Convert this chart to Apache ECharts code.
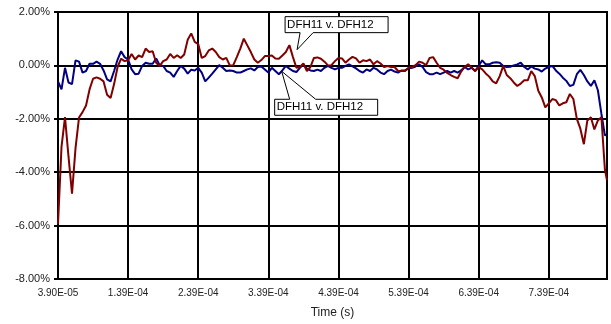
<!DOCTYPE html>
<html>
<head>
<meta charset="utf-8">
<script src="https://cdn.jsdelivr.net/npm/echarts@6/dist/echarts.min.js"></script>
<style>
html,body{margin:0;padding:0;background:#fff;}
#c{width:611px;height:324px;}
</style>
</head>
<body>
<div id="c"></div>
<script>
// Time in microseconds
var timeUs = [
 39,44,49,54,59,64,69,74,79,84,
 89,94,99,104,109,114,119,124,129,134,
 139,144,149,154,159,164,169,174,179,184,
 189,194,199,204,209,214,219,224,229,234,
 239,244,249,254,259,264,269,274,279,284,
 289,294,299,304,309,314,319,324,329,334,
 339,344,349,354,359,364,369,374,379,384,
 389,394,399,404,409,414,419,424,429,434,
 439,444,449,454,459,464,469,474,479,484,
 489,494,499,504,509,514,519,524,529,534,
 539,544,549,554,559,564,569,574,579,584,
 589,594,599,604,609,614,619,624,629,634,
 639,644,649,654,659,664,669,674,679,684,
 689,694,699,704,709,714,719,724,729,734,
 739,744,749,754,759,764,769,774,779,784,
 789,794,799,804,809,814,819,822
];
// Deviation in percent
var redSeries = [
 -5.95,-3.05,-1.94,-3.42,-4.8,-3.1,-1.95,-1.75,-1.5,-0.9,
 -0.5,-0.45,-0.5,-0.6,-1.1,-1.22,-0.7,-0.06,0.25,0.16,
 0.19,0.43,0.22,0.37,0.31,0.63,0.5,0.53,0.1,-0.02,
 0.16,0.22,0.43,0.28,0.38,0.28,0.41,0.96,1.2,0.88,
 0.8,0.28,0.35,0.56,0.63,0.5,0.31,0.22,0.28,0.0,
 0.01,0.31,0.63,1.0,0.75,0.5,0.22,0.1,0.2,0.35,
 0.35,0.37,0.26,0.25,0.37,0.5,0.76,0.32,-0.09,-0.06,
 0.07,-0.21,-0.06,0.28,0.3,0.25,0.14,0.0,0.01,0.16,
 0.28,0.26,0.1,0.22,0.32,0.26,0.1,0.19,0.16,0.22,
 0.04,0.16,0.07,-0.06,-0.02,-0.06,-0.06,-0.21,-0.21,-0.21,
 -0.09,-0.06,0.01,0.14,0.1,0.01,0.28,0.31,0.1,-0.09,
 -0.16,-0.28,-0.36,-0.43,-0.48,-0.23,-0.05,0.04,-0.09,-0.21,
 -0.06,-0.15,-0.3,-0.42,-0.6,-0.67,-0.4,-0.02,-0.36,-0.48,
 -0.64,-0.77,-0.68,-0.56,-0.56,-0.21,-0.4,-0.95,-1.2,-1.57,
 -1.42,-1.26,-1.3,-1.5,-1.42,-1.38,-1.07,-1.26,-2.0,-2.37,
 -2.95,-2.06,-1.94,-2.4,-2.06,-1.94,-3.9,-4.3
];
var blueSeries = [
 -0.6,-0.9,-0.09,-0.64,-0.7,0.19,0.14,-0.27,-0.21,0.06,
 0.06,0.14,0.06,-0.19,-0.52,-0.6,-0.21,0.22,0.53,0.31,
 0.22,-0.15,-0.33,-0.31,-0.02,0.1,0.06,0.06,0.26,0.01,
 -0.02,-0.21,-0.27,-0.43,-0.21,-0.02,-0.12,-0.31,-0.16,-0.19,
 -0.09,-0.27,-0.6,-0.46,-0.31,-0.15,0.01,-0.09,-0.21,-0.19,
 -0.21,-0.27,-0.27,-0.21,-0.15,-0.11,-0.19,-0.06,-0.04,-0.15,
 -0.27,-0.09,-0.21,-0.33,-0.19,-0.02,-0.12,-0.21,-0.25,-0.09,
 0.04,-0.12,-0.19,-0.21,-0.16,-0.21,-0.09,-0.02,-0.09,-0.15,
 -0.09,-0.09,-0.02,0.04,-0.04,-0.11,-0.21,-0.27,-0.15,-0.21,
 -0.09,-0.15,-0.27,-0.33,-0.21,-0.16,-0.23,-0.27,-0.19,-0.19,
 -0.11,-0.09,-0.04,0.04,-0.06,-0.25,-0.33,-0.33,-0.27,-0.33,
 -0.27,-0.21,-0.27,-0.21,-0.27,-0.19,-0.06,-0.15,-0.09,-0.21,
 -0.02,0.19,0.04,0.04,0.1,0.12,0.1,-0.02,-0.06,-0.05,
 0.0,0.04,0.1,-0.06,-0.15,-0.04,-0.12,-0.15,-0.23,-0.12,
 -0.06,-0.02,-0.19,-0.31,-0.46,-0.58,-0.77,-0.73,-0.33,-0.17,
 -0.36,-0.6,-0.77,-0.56,-0.93,-1.81,-2.62,-2.6
];
var yTicks = [-8, -6, -4, -2, 0, 2];
var calloutText = 'DFH11 v. DFH12';
var t0 = 39, tEnd = 822, tStep = 100;

function fmtTime(v) {
  var t = (v + t0) * 1e-6;
  var e = Math.floor(Math.log10(t) + 1e-9);
  var m = t / Math.pow(10, e);
  var es = Math.abs(e) < 10 ? '0' + Math.abs(e) : '' + Math.abs(e);
  return m.toFixed(2) + 'E' + (e < 0 ? '-' : '+') + es;
}
function pairs(vals) {
  return timeUs.map(function (t, i) { return [t - t0, vals[i]]; });
}

var chart = echarts.init(document.getElementById('c'), null, {renderer: 'canvas'});
var font = 'Liberation Sans, Arial, sans-serif';
chart.setOption({
  animation: false,
  backgroundColor: '#fff',
  grid: {left: 58, right: 4, top: 12, bottom: 42, show: true, borderColor: '#000', borderWidth: 2, backgroundColor: 'transparent'},
  xAxis: {
    type: 'value', min: 0, max: tEnd - t0, interval: tStep,
    name: 'Time (s)', nameLocation: 'middle', nameGap: 28,
    nameTextStyle: {fontFamily: font, fontSize: 12, color: '#222'},
    axisLine: {show: true, onZero: false, lineStyle: {color: '#000', width: 2}},
    axisTick: {show: false},
    axisLabel: {formatter: fmtTime, fontFamily: font, fontSize: 10, color: '#222', margin: 9, showMaxLabel: false},
    splitLine: {show: true, lineStyle: {color: '#000', width: 2}}
  },
  yAxis: {
    type: 'value', min: yTicks[0], max: yTicks[yTicks.length - 1], interval: 2,
    axisLine: {show: true, onZero: false, lineStyle: {color: '#000', width: 2}},
    axisTick: {show: true, length: 4, lineStyle: {color: '#000', width: 2}},
    axisLabel: {formatter: function (v) { return v.toFixed(2) + '%'; }, fontFamily: font, fontSize: 11, color: '#222', margin: 8},
    splitLine: {show: true, lineStyle: {color: '#000', width: 2}}
  },
  series: [
    {type: 'line', name: 'blue', data: pairs(blueSeries), showSymbol: false, lineStyle: {color: '#000080', width: 2}, itemStyle: {color: '#000080'}},
    {type: 'line', name: 'red', data: pairs(redSeries), showSymbol: false, lineStyle: {color: '#800000', width: 2}, itemStyle: {color: '#800000'}}
  ]
});

// Callouts anchored at data points
function callout(tip, box, wedge, below) {
  var p = chart.convertToPixel({gridIndex: 0}, [tip[0] - t0, tip[1]]);
  var L = p[0] + box[0], T = p[1] + box[1], W = box[2], H = box[3];
  var R = L + W, B = T + H;
  var pts;
  if (!below) {
    pts = [[L, T], [R, T], [R, B], [p[0] + wedge[1], B], [p[0], p[1]], [p[0] + wedge[0], B], [L, B]];
  } else {
    pts = [[L, T], [p[0] + wedge[0], T], [p[0], p[1]], [p[0] + wedge[1], T], [R, T], [R, B], [L, B]];
  }
  return [
    {type: 'polygon', shape: {points: pts}, style: {fill: '#fff', stroke: '#000', lineWidth: 1}, z: 100},
    {type: 'text', x: L + 2, y: T + H / 2, style: {text: calloutText, font: '11.5px ' + font, fill: '#000', textVerticalAlign: 'middle', verticalAlign: 'middle'}, z: 101}
  ];
}
var els = [].concat(
  callout([380, 0.59], [-12, -33, 103, 16], [3, 16], false),
  callout([358, -0.22], [-7, 28, 103, 16], [8, 34], true)
);
chart.setOption({graphic: els});
</script>
</body>
</html>
